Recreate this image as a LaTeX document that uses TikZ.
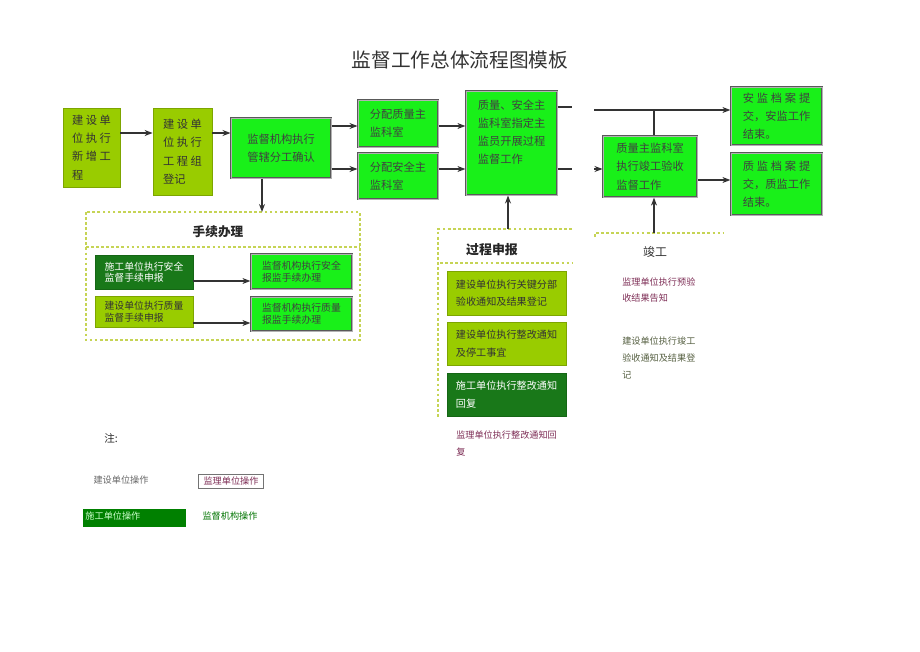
\documentclass[tikz,border=0pt]{standalone}
\usepackage{fontspec}
\setmainfont{Noto Sans CJK SC}
\usepackage{tikz}
\usetikzlibrary{arrows.meta, positioning, calc}
\definecolor{jsgreen}{RGB}{153,204,0}
\definecolor{jsline}{RGB}{125,165,0}
\definecolor{jdgreen}{RGB}{25,240,25}
\definecolor{sggreen}{RGB}{25,120,25}
\definecolor{dashc}{RGB}{198,212,85}
\definecolor{jlpurple}{RGB}{125,45,85}
\definecolor{jgolive}{RGB}{85,95,65}
\newcommand{\boxfont}{\fontsize{8}{13}\selectfont}
\newcommand{\smallboxfont}{\fontsize{7}{8.2}\selectfont}
\newcommand{\midboxfont}{\fontsize{7.2}{12.6}\selectfont}
\newcommand{\notefont}{\fontsize{6.5}{12}\selectfont}

\begin{document}
\begin{tikzpicture}[x=0.025cm, y=-0.025cm,
      jsbox/.style={rectangle, draw=jsline, fill=jsgreen, text=black!80, align=left, font=\boxfont, inner sep=0pt},
      jdbox/.style={rectangle, draw=black!65, double=black!30, double distance=0.5pt, line width=0.7pt, fill=jdgreen, text=black!75, align=left, font=\boxfont, inner sep=0pt},
      sgbox/.style={rectangle, draw=sggreen!85!black, fill=sggreen, text=white, align=left, font=\smallboxfont, inner sep=0pt},
      note/.style={align=left, font=\notefont, inner sep=0pt},
      arr/.style={-{Stealth[length=2mm, width=1.5mm]}, black!80, line width=0.85pt},
      ln/.style={black!80, line width=0.85pt},
      dsh/.style={draw=dashc, line width=0.9pt, dash pattern=on 2pt off 1.6pt}]
    \useasboundingbox (0,0) rectangle (920,651);
    \node[font=\fontsize{14}{16}\selectfont, text=black!80] (title) at (460,60) {监督工作总体流程图模板};

    \node[jsbox, minimum width=1.43cm, minimum height=1.98cm] (xz) at (91.5,147.5) {建 设 单\\位 执 行\\新 增 工\\程};
    \node[jsbox, minimum width=1.48cm, minimum height=2.18cm] (dj) at (182.5,151.5) {建 设 单\\位 执 行\\工 程 组\\登记};
    \node[jdbox, minimum width=2.5cm, minimum height=1.5cm] (fg) at (281,148) {监督机构执行\\管辖分工确认};
    \node[jdbox, minimum width=2.0cm, minimum height=1.18cm] (zlfp) at (398,123.5) {分配质量主\\监科室};
    \node[jdbox, minimum width=2.0cm, minimum height=1.15cm] (aqfp) at (398,176) {分配安全主\\监科室};
    \node[jdbox, minimum width=2.28cm, minimum height=2.6cm, text depth=16pt] (gcjd) at (511.5,143) {质量、安全主\\监科室指定主\\监员开展过程\\监督工作};
    \node[jdbox, minimum width=2.28cm, minimum height=1.45cm] (ajda) at (776.5,116) {\makebox[6em][s]{安 监 档 案 提}\\交，安监工作\\结束。};
    \node[jdbox, minimum width=2.28cm, minimum height=1.55cm] (zjda) at (776.5,184) {\makebox[6em][s]{质 监 档 案 提}\\交，质监工作\\结束。};
    \node[jdbox, minimum width=2.35cm, minimum height=1.53cm] (jgys) at (650,166.5) {质量主监科室\\执行竣工验收\\监督工作};

    \coordinate (ab) at (0,133);
    \coordinate (cz) at (0,126);
    \coordinate (ca) at (0,169);
    \draw[arr] (xz.east |- ab) -- (dj.west |- ab);
    \draw[arr] (dj.east |- ab) -- (fg.west |- ab);
    \draw[arr] (fg.east |- cz) -- (zlfp.west |- cz);
    \draw[arr] (fg.east |- ca) -- (aqfp.west |- ca);
    \draw[arr] (zlfp.east |- cz) -- (gcjd.west |- cz);
    \draw[arr] (aqfp.east |- ca) -- (gcjd.west |- ca);
    \coordinate (es1) at (572,107);
    \coordinate (es2) at (572,169);
    \draw[ln] (gcjd.east |- es1) -- (es1);
    \draw[ln] (gcjd.east |- es2) -- (es2);
    \coordinate (ga) at (594,110);
    \coordinate (gv) at (654,110);
    \coordinate (gz) at (594,169);
    \coordinate (gf) at (0,180);
    \draw[arr] (ga) -- (ajda.west |- ga);
    \draw[ln] (gv) -- (gv |- jgys.north);
    \draw[arr] (gz) -- (jgys.west |- gz);
    \draw[arr] (jgys.east |- gf) -- (zjda.west |- gf);

    % 手续办理
    \draw[dsh] (86,212) rectangle (360,340);
    \draw[dsh] (86,247) -- (360,247);
    \node[font=\fontsize{9}{11}\selectfont\bfseries, text=black!85] (sxbl) at (218,232) {手续办理};
    \coordinate (sxtop) at (262,212);
    \draw[arr] (sxtop |- fg.south) -- (sxtop);
    \node[sgbox, minimum width=2.45cm, minimum height=0.85cm] (sgaq) at (144,272) {施工单位执行安全\\监督手续申报};
    \node[jsbox, font=\smallboxfont, minimum width=2.45cm, minimum height=0.78cm] (jszl) at (144,311.5) {建设单位执行质量\\监督手续申报};
    \node[jdbox, font=\smallboxfont, minimum width=2.53cm, minimum height=0.88cm] (jdaq) at (301.5,271.5) {监督机构执行安全\\报监手续办理};
    \node[jdbox, font=\smallboxfont, minimum width=2.53cm, minimum height=0.85cm] (jdzl) at (301.5,314) {监督机构执行质量\\报监手续办理};
    \coordinate (ha) at (0,281);
    \coordinate (hz) at (0,323);
    \draw[arr] (sgaq.east |- ha) -- (jdaq.west |- ha);
    \draw[arr] (jszl.east |- hz) -- (jdzl.west |- hz);

    % 过程申报
    \draw[dsh] (572,229) -- (438,229) -- (438,418);
    \draw[dsh] (440,263) -- (572,263);
    \node[font=\fontsize{9.2}{11}\selectfont\bfseries, text=black!85] (gcsb) at (492,250) {过程申报};
    \coordinate (gctop) at (508,229);
    \draw[arr] (gctop) -- (gctop |- gcjd.south);
    \node[jsbox, font=\midboxfont, minimum width=2.98cm, minimum height=1.1cm] (gjfb) at (506.5,293) {建设单位执行关键分部\\验收通知及结果登记};
    \node[jsbox, font=\midboxfont, minimum width=2.98cm, minimum height=1.08cm] (zgtz) at (506.5,343.5) {建设单位执行整改通知\\及停工事宜};
    \node[sgbox, font=\midboxfont, minimum width=2.98cm, minimum height=1.08cm] (zghf) at (506.5,394.5) {施工单位执行整改通知\\回复};
    \node[note, text=jlpurple, anchor=west] (jlzg) at (456,443.5) {监理单位执行整改通知回\\复};

    % 竣工
    \draw[dsh] (595,237) -- (595,233) -- (723,233);
    \coordinate (jgtop) at (654,233);
    \draw[arr] (jgtop) -- (jgtop |- jgys.south);
    \node[font=\fontsize{8.5}{10}\selectfont, text=black!80] (jgt) at (655,252) {竣工};
    \node[note, text=jlpurple, anchor=west] (yys) at (622,290) {监理单位执行预验\\收结果告知};
    \node[note, text=jgolive, anchor=west] (jgdj) at (622,358) {建设单位执行竣工\\验收通知及结果登\\记};

    \node[font=\fontsize{7.5}{9}\selectfont, text=black!85] (zhu) at (111,438) {注:};
    \node[note, text=black!60] (l1) at (121,480) {建设单位操作};
    \node[note, text=jlpurple, draw=black!55, line width=0.5pt, minimum width=1.63cm, minimum height=0.35cm] (l2) at (231,481) {监理单位操作};
    \node[note, fill=green!50!black, text=green!20!white, text width=2.45cm, minimum height=0.45cm, inner xsep=1.5pt, text depth=3pt] (l3) at (134.5,518) {施工单位操作};
    \node[note, text=green!45!black] (l4) at (230,516) {监督机构操作};
  \end{tikzpicture}
\end{document}
